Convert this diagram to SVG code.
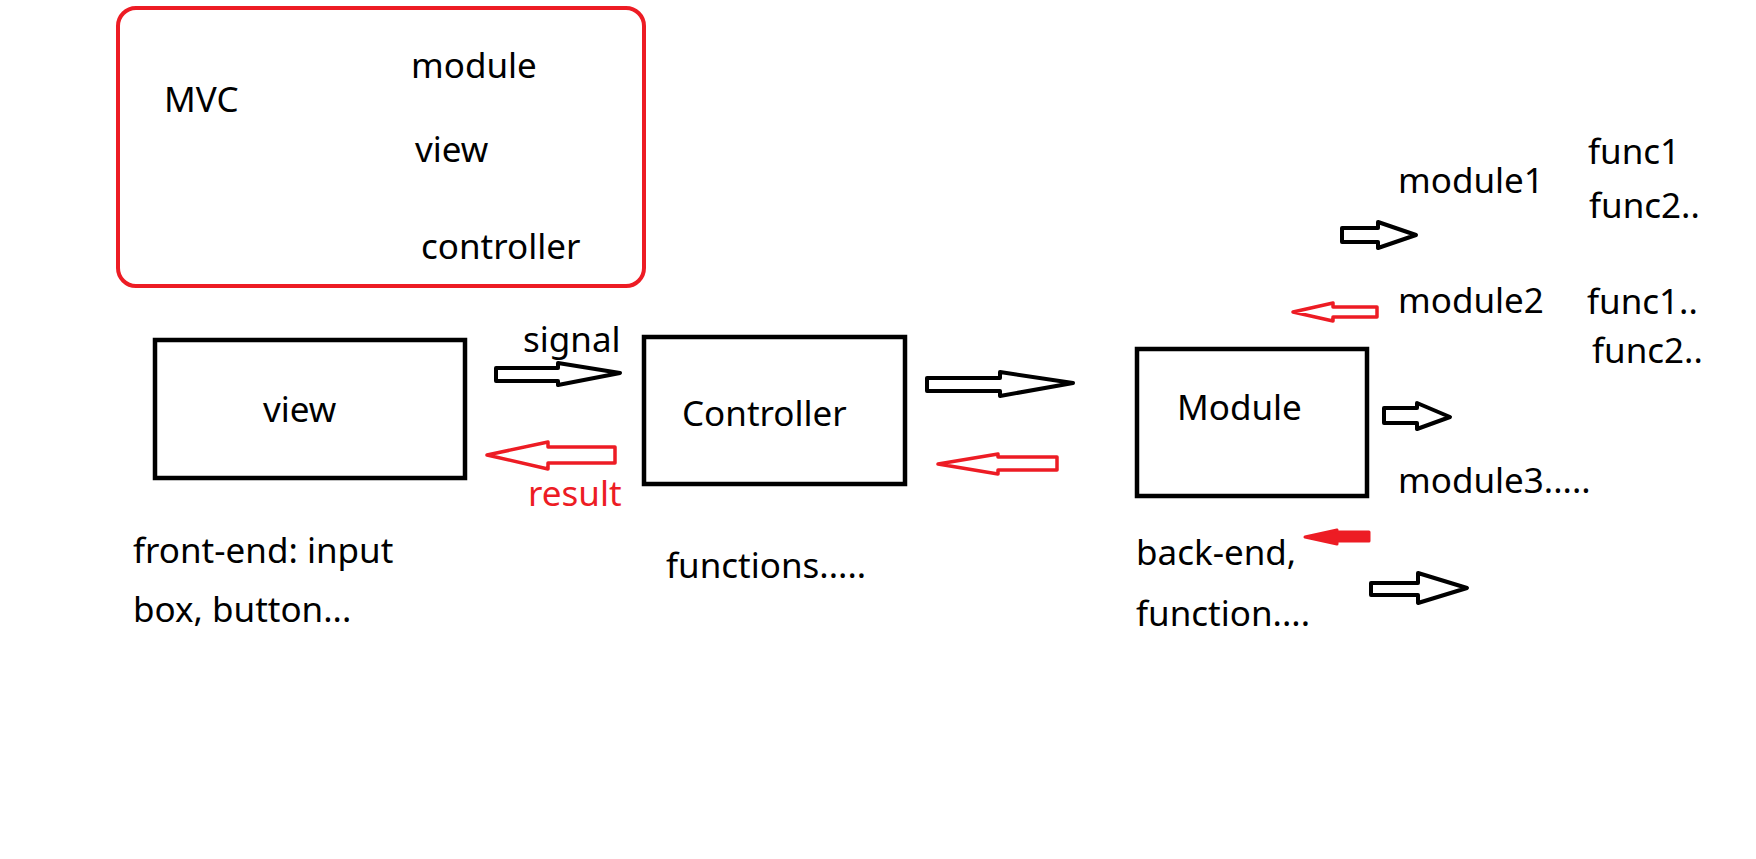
<svg xmlns="http://www.w3.org/2000/svg" width="1756" height="859" viewBox="0 0 1756 859">
<style>
text{font-family:"Noto Sans","Open Sans","DejaVu Sans",sans-serif;font-size:35px;fill:#000}
.red{fill:#ed1c24}
.box{fill:none;stroke:#000;stroke-width:4.5}
.arr{fill:#fff;stroke:#000;stroke-width:4;stroke-linejoin:round}
.rarr{fill:#fff;stroke:#ed1c24;stroke-width:3.5;stroke-linejoin:round}
</style>
<rect width="1756" height="859" fill="#fff"/>
<g id="mvc-legend">
<rect x="118" y="8" width="526" height="278" rx="18" fill="none" stroke="#ed1c24" stroke-width="4"/>
<text x="164" y="112">MVC</text>
<text x="411" y="78">module</text>
<text x="415" y="162">view</text>
<text x="421" y="259">controller</text>
</g>
<g id="view">
<rect class="box" x="155" y="340" width="310" height="138"/>
<text x="263" y="422">view</text>
<text x="133" y="563">front-end: input</text>
<text x="133" y="622">box, button...</text>
</g>
<g id="controller">
<rect class="box" x="644" y="337" width="261" height="147"/>
<text x="682" y="426">Controller</text>
<text x="666" y="578">functions.....</text>
</g>
<g id="module">
<rect class="box" x="1137" y="349" width="230" height="147"/>
<text x="1177" y="420">Module</text>
<text x="1136" y="565">back-end,</text>
<text x="1136" y="626">function....</text>
</g>
<g id="submodules">
<text x="1398" y="193">module1</text>
<text x="1588" y="164">func1</text>
<text x="1589" y="218">func2..</text>
<text x="1398" y="313">module2</text>
<text x="1587" y="314">func1..</text>
<text x="1592" y="363">func2..</text>
<text x="1398" y="493">module3.....</text>
</g>
<g id="connectors">
<polygon class="arr" points="496,368 558,368 558,363 620,373 558,385 558,381 496,381"/>
<text x="523" y="352">signal</text>
<polygon class="rarr" points="487,455 548,442 548,447 615,447 615,463 548,463 548,469"/>
<text class="red" x="528" y="506">result</text>
<polygon class="arr" points="927,378 1000,378 1000,372 1073,383 1000,396 1000,391 927,391"/>
<polygon class="rarr" points="938,464 998,454 998,457 1057,457 1057,470 998,470 998,474"/>
<polygon class="arr" points="1384,408 1417,408 1417,403 1450,417 1417,429 1417,423 1384,423"/>
<polygon class="arr" points="1342,228 1378,228 1378,222 1416,235 1378,248 1378,242 1342,242"/>
<polygon class="rarr" points="1293,312 1333,303 1333,307 1377,307 1377,317 1333,317 1333,321"/>
<polygon points="1305,537 1337,530 1337,532 1369,532 1369,541 1337,541 1337,544" fill="#ed1c24" stroke="#ed1c24" stroke-width="3" stroke-linejoin="round"/>
<polygon class="arr" points="1371,583 1418,583 1418,573 1467,588 1418,603 1418,595 1371,595"/>
</g>
</svg>
